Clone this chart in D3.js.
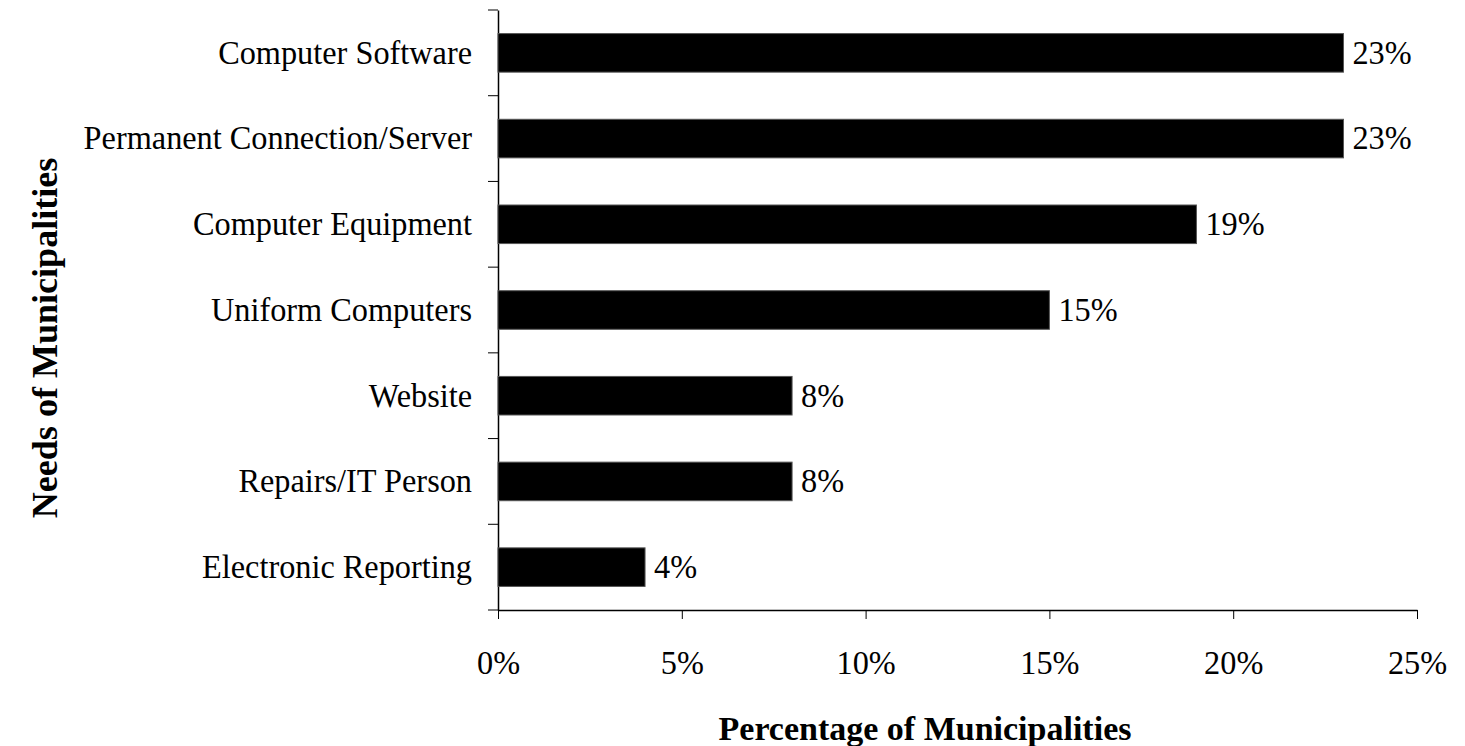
<!DOCTYPE html>
<html lang="en">
<head>
  <meta charset="UTF-8">
  <script src="https://d3js.org/d3.v7.min.js"></script>
  <title>Needs of Municipalities</title>
  <style>
    body { margin: 0; background: #fff; }
    svg text { font-family: "Liberation Serif", "Times New Roman", serif; fill: #000; }
  </style>
</head>
<body>
  <div id="container"></div>
  <script>
    // data
    const categories = ["Computer Software", "Permanent Connection/Server", "Computer Equipment",
      "Uniform Computers", "Website", "Repairs/IT Person", "Electronic Reporting"];
    const values = [23, 23, 19, 15, 8, 8, 4];
    const xTicks = [0, 5, 10, 15, 20, 25];

    const w = 1465
    const h = 746
    const margin = { top: 10, right: 48, bottom: 136, left: 498 }

    // the original text is a little narrower than Liberation Serif, squeeze it
    function squeeze(sel, k) {
      sel.each(function () {
        const len = this.getComputedTextLength();
        d3.select(this)
          .attr("textLength", len * k)
          .attr("lengthAdjust", "spacingAndGlyphs");
      });
    }

    const svg = d3.select("#container")
      .append("svg")
      .attr("width", w)
      .attr("height", h)
      .style("display", "block");

    const x = d3.scaleLinear()
      .domain([0, 25])
      .range([margin.left, w - margin.right]);

    const y = d3.scaleBand()
      .domain(categories)
      .range([margin.top, h - margin.bottom])
      .paddingInner(0.55)
      .paddingOuter(0.275);

    // x axis
    const xAxis = d3.axisBottom(x)
      .tickValues(xTicks)
      .tickSize(9)
      .tickSizeOuter(0)
      .tickPadding(31)
      .tickFormat(d => d + "%");

    const gx = svg.append("g")
      .attr("transform", "translate(0," + (h - margin.bottom) + ")")
      .call(xAxis);
    gx.selectAll("text").style("font-size", "34px").call(squeeze, 0.95);

    // y axis: labels at band centres, ticks at band boundaries
    const gy = svg.append("g")
      .attr("transform", "translate(" + margin.left + ",0)")
      .call(d3.axisLeft(y).tickSize(0).tickPadding(26));
    gy.selectAll("text").style("font-size", "34px").call(squeeze, 0.95);

    const bounds = d3.range(categories.length + 1).map(i => margin.top + i * y.step());
    gy.selectAll("line.bound")
      .data(bounds)
      .enter()
      .append("line")
      .attr("class", "bound")
      .attr("x1", -10)
      .attr("x2", 0)
      .attr("y1", d => d)
      .attr("y2", d => d)
      .attr("stroke", "#000");

    svg.selectAll(".domain").attr("stroke", "#000").attr("stroke-width", 1.5);

    // bars
    svg.selectAll("rect.bar")
      .data(values)
      .enter()
      .append("rect")
      .attr("class", "bar")
      .attr("x", x(0))
      .attr("y", (d, i) => y(categories[i]))
      .attr("width", d => x(d) - x(0))
      .attr("height", y.bandwidth())
      .attr("fill", "#000")
      .attr("stroke", "#555")
      .attr("stroke-width", 1);

    // value labels
    svg.selectAll("text.val")
      .data(values)
      .enter()
      .append("text")
      .attr("class", "val")
      .attr("x", d => x(d) + 9)
      .attr("y", (d, i) => y(categories[i]) + y.bandwidth() / 2)
      .attr("dy", "0.32em")
      .style("font-size", "34px")
      .text(d => d + "%")
      .call(squeeze, 0.95);

    // axis titles
    svg.append("text")
      .attr("x", 925)
      .attr("y", 740)
      .attr("text-anchor", "middle")
      .style("font-size", "34px")
      .style("font-weight", "bold")
      .text("Percentage of Municipalities");

    svg.append("text")
      .attr("transform", "translate(57,338) rotate(-90)")
      .attr("text-anchor", "middle")
      .style("font-size", "35px")
      .style("font-weight", "bold")
      .text("Needs of Municipalities")
      .call(squeeze, 1.03);
  </script>
</body>
</html>
